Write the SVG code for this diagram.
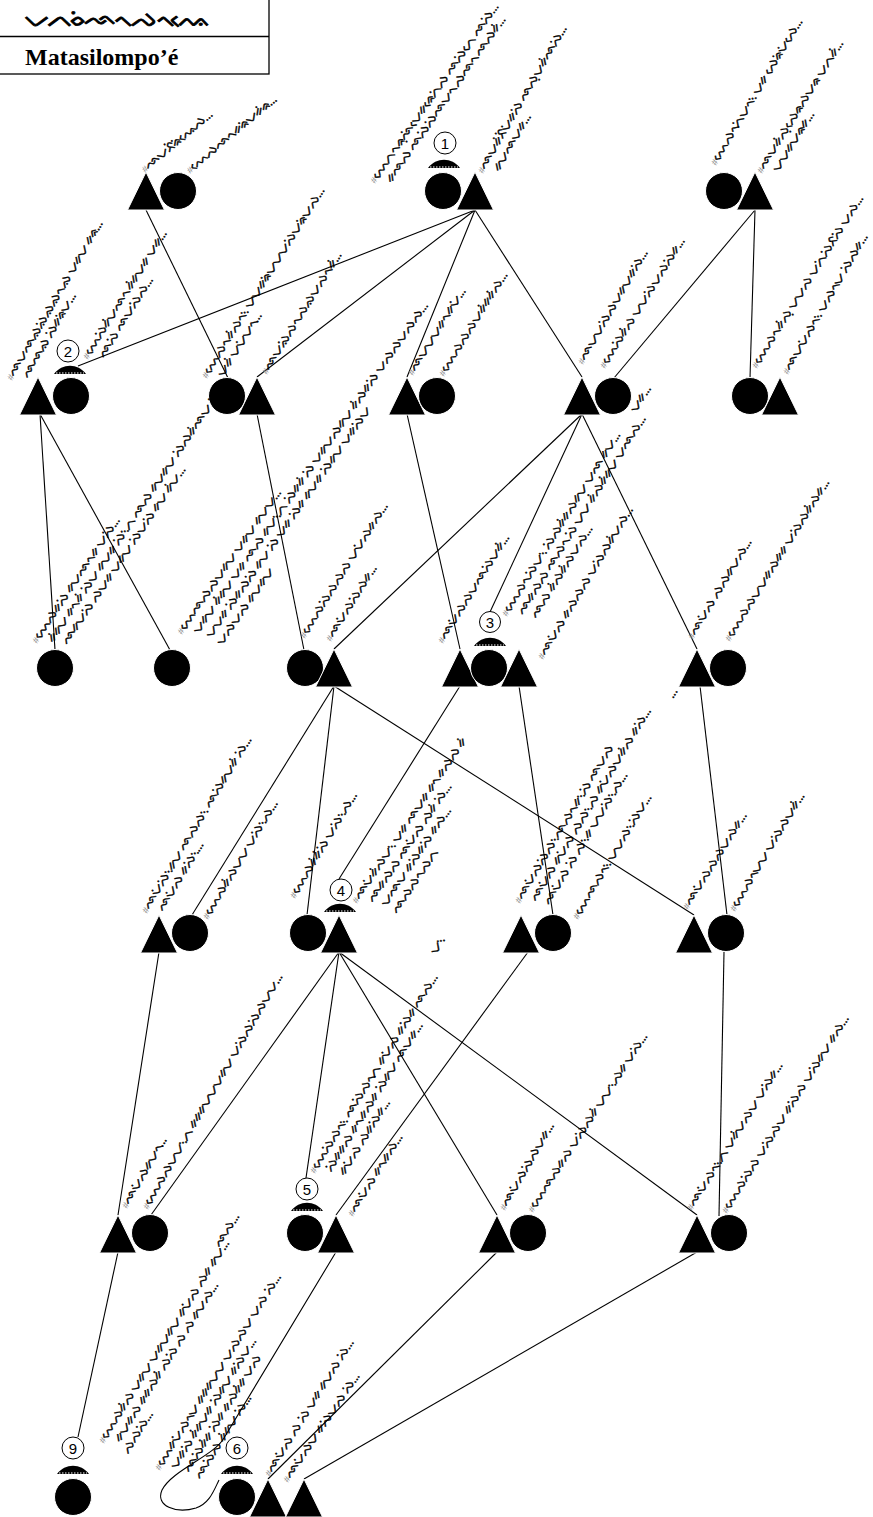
<svg xmlns="http://www.w3.org/2000/svg" xmlns:xlink="http://www.w3.org/1999/xlink" width="873" height="1517" viewBox="0 0 873 1517">
<style>
.lb{font-family:"Noto Sans Buginese","Noto Sans","DejaVu Sans",sans-serif;font-size:12.5px;fill:#000;stroke:#000;stroke-width:0.35;letter-spacing:-0.3px}
.h{fill:#8a8a8a;stroke:none;font-family:"Liberation Sans",sans-serif;font-size:9px}
.sym{fill:#000;stroke:#fff;stroke-width:1}
.cn line,.cn path{stroke:#000;stroke-width:1.1;fill:none}
.mk circle{fill:#fff;stroke:#000;stroke-width:1}
.mk text{font-family:"Liberation Sans",sans-serif;font-size:15px;text-anchor:middle;fill:#000}
.cap{fill:#000}
</style>
<defs>
<path id="tri" d="M0,0 L18.5,38 L-18.5,38 Z"/>
<g id="cap"><path d="M-16,4 C-8,-7 8,-7 16,4 Z"/><line x1="-14" y1="3" x2="14" y2="3" stroke="#fff" stroke-width="1.2" stroke-dasharray="1.5 1.5"/></g>
</defs>
<rect width="873" height="1517" fill="#fff"/>

<g id="title">
<rect x="-1" y="-1" width="270" height="75" fill="#fff" stroke="#000" stroke-width="1.3"/>
<line x1="0" y1="36.5" x2="269" y2="36.5" stroke="#000" stroke-width="1.3"/>
<text x="25" y="26" class="lb" style="font-size:20px;stroke-width:0.8" textLength="183" lengthAdjust="spacingAndGlyphs">ᨆᨈᨔᨗᨒᨚᨄᨚᨕᨙ</text>
<text x="25" y="65" style="font-family:'Liberation Serif',serif;font-weight:bold;font-size:24px">Matasilompo’é</text>
</g>

<g id="connectors" class="cn">
<line x1="146" y1="210" x2="228" y2="378"/>
<line x1="475" y1="210" x2="78" y2="366"/>
<line x1="475" y1="210" x2="257" y2="377"/>
<line x1="475" y1="210" x2="407" y2="377"/>
<line x1="475" y1="210" x2="582" y2="377"/>
<line x1="755" y1="210" x2="614" y2="378"/>
<line x1="755" y1="210" x2="750" y2="378"/>
<line x1="40" y1="414" x2="55" y2="650"/>
<line x1="40" y1="414" x2="170" y2="650"/>
<line x1="257" y1="414" x2="304" y2="650"/>
<line x1="407" y1="414" x2="460" y2="649"/>
<line x1="582" y1="414" x2="334" y2="649"/>
<line x1="582" y1="414" x2="490" y2="612"/>
<line x1="582" y1="414" x2="697" y2="649"/>
<line x1="334" y1="686" x2="192" y2="915"/>
<line x1="334" y1="686" x2="307" y2="915"/>
<line x1="334" y1="686" x2="694" y2="915"/>
<line x1="460" y1="686" x2="339" y2="879"/>
<line x1="519" y1="686" x2="553" y2="915"/>
<line x1="700" y1="686" x2="727" y2="915"/>
<line x1="159" y1="952" x2="118" y2="1215"/>
<line x1="339" y1="952" x2="151" y2="1215"/>
<line x1="339" y1="952" x2="306" y2="1178"/>
<line x1="339" y1="952" x2="497" y2="1215"/>
<line x1="339" y1="952" x2="697" y2="1215"/>
<line x1="528" y1="952" x2="336" y2="1215"/>
<line x1="724" y1="952" x2="719" y2="1216"/>
<line x1="118" y1="1252" x2="78" y2="1437"/>
<path d="M336,1252 L224,1438 C214,1456 172,1470 162,1490 C155,1506 176,1514 196,1508 C210,1503 214,1490 219,1480"/>
<line x1="497" y1="1252" x2="268" y2="1479"/>
<line x1="697" y1="1252" x2="304" y2="1479"/>
</g>

<g id="nA">
<use xlink:href="#tri" x="146" y="172" class="sym"/>
<circle cx="178" cy="191" r="18.5" class="sym"/>
<text class="lb" transform="translate(145,173) rotate(-40)"><tspan class="h">#</tspan>ᨒᨆᨅᨗᨑᨗᨕᨙᨄ...</text>
<text class="lb" transform="translate(190,174) rotate(-40)"><tspan class="h">#</tspan>ᨓᨙᨄᨒᨚᨀᨑᨗᨆᨀᨗᨑ...</text>
</g>

<g id="nB">
<circle cx="443" cy="191" r="18.5" class="sym"/>
<use xlink:href="#tri" x="475" y="172" class="sym"/>
<use xlink:href="#cap" x="444" y="164" class="cap"/>
<g class="mk"><circle cx="445" cy="143" r="11"/><text x="445" y="148.5">1</text></g>
<text class="lb" transform="translate(375,184) rotate(-55)"><tspan class="h">#</tspan>ᨓᨙᨈᨚᨑᨘᨒᨗᨆᨙᨀᨑᨙᨈᨗᨄ ᨒᨄᨗᨈᨙ ᨒᨄᨗ...<tspan x="10" dy="13">ᨀᨒᨄ ᨒᨄᨗᨄᨗᨒᨆᨚ ᨄᨒᨚ ᨒᨄᨀᨗ...</tspan></text>
<text class="lb" transform="translate(483,174) rotate(-60)"><tspan class="h">#</tspan>ᨒᨆᨀᨗᨅᨗᨆᨗᨀᨄᨗ ᨒᨄᨘᨆᨀᨗᨒᨄᨗ...<tspan x="10" dy="13">ᨀᨆᨒᨆᨀ...</tspan></text>
</g>

<g id="nC">
<circle cx="724" cy="191" r="18.5" class="sym"/>
<use xlink:href="#tri" x="755" y="172" class="sym"/>
<text class="lb" transform="translate(716,166) rotate(-59)"><tspan class="h">#</tspan>ᨓᨙᨄᨚᨈᨗᨆᨚ᨞ ᨆᨀ ᨄᨙᨑᨗᨆᨗᨄᨙ...</text>
<text class="lb" transform="translate(762,174) rotate(-58)"><tspan class="h">#</tspan>ᨒᨆᨀᨗᨄᨘᨄᨙᨑᨄᨆᨑ ᨆᨈᨀᨗ...<tspan x="10" dy="13">ᨆᨆᨀᨆᨑᨀ...</tspan></text>
</g>

<g id="nD">
<use xlink:href="#tri" x="38" y="377" class="sym"/>
<circle cx="71" cy="396" r="18.5" class="sym"/>
<use xlink:href="#cap" x="70" y="370" class="cap"/>
<g class="mk"><circle cx="68" cy="351" r="11"/><text x="68" y="356.5">2</text></g>
<text class="lb" transform="translate(12,381) rotate(-60)"><tspan class="h">#</tspan>ᨒᨆᨒᨁᨁᨗᨁᨁᨚᨁ ᨆᨀᨆ ᨀᨑ...<tspan x="10" dy="13">ᨒᨒᨁ ᨄᨗᨀᨑᨗᨆ...</tspan></text>
<text class="lb" transform="translate(88,360) rotate(-58)"><tspan class="h">#</tspan>ᨓᨙᨄᨗᨀᨗᨆᨒᨚ ᨀᨗᨀᨆᨀ ᨆᨀ...<tspan x="10" dy="13">ᨒᨄᨗ ᨒᨆᨄᨗᨄ...</tspan></text>
</g>

<g id="nE">
<circle cx="227" cy="396" r="18.5" class="sym"/>
<use xlink:href="#tri" x="257" y="377" class="sym"/>
<text class="lb" transform="translate(207,379) rotate(-58)"><tspan class="h">#</tspan>ᨓᨙᨄᨚᨀᨗᨄᨚ᨞ ᨆᨆᨀᨑᨗᨆᨆᨆᨄᨗᨆᨑᨗᨆᨄ...<tspan x="10" dy="13">ᨆᨀᨗ ᨆᨆᨗᨆᨚ...</tspan></text>
<text class="lb" transform="translate(267,375) rotate(-58)"><tspan class="h">#</tspan>ᨒᨆᨁᨗᨄᨚᨄᨁᨆᨄᨚᨀᨗ...</text>
</g>

<g id="nF">
<use xlink:href="#tri" x="407" y="377" class="sym"/>
<circle cx="437" cy="396" r="18.5" class="sym"/>
<text class="lb" transform="translate(413,376) rotate(-58)"><tspan class="h">#</tspan>ᨒᨆᨆᨆᨀᨚᨀᨆᨗ...</text>
<text class="lb" transform="translate(444,377) rotate(-58)"><tspan class="h">#</tspan>ᨓᨙᨄᨄᨄᨆᨀᨗᨀᨀᨗᨄ...</text>
</g>

<g id="nG">
<use xlink:href="#tri" x="582" y="377" class="sym"/>
<circle cx="613" cy="396" r="18.5" class="sym"/>
<text class="lb" transform="translate(583,365) rotate(-60)"><tspan class="h">#</tspan>ᨒᨆᨆᨄᨗᨄᨆᨀᨆᨀᨄᨗ...</text>
<text class="lb" transform="translate(605,369) rotate(-58)"><tspan class="h">#</tspan>ᨓᨙᨄᨗᨀᨗᨄ ᨆᨆᨄᨗᨆᨄᨄᨗᨀ...</text>
<text class="lb" transform="translate(636,413) rotate(-58)">ᨆᨀ...</text>
</g>

<g id="nH">
<circle cx="750" cy="396" r="18.5" class="sym"/>
<use xlink:href="#tri" x="780" y="377" class="sym"/>
<text class="lb" transform="translate(757,369) rotate(-58)"><tspan class="h">#</tspan>ᨓᨙᨄᨚᨀᨗᨄᨘ ᨆᨆᨄ ᨆᨈᨗᨄᨗᨅᨄᨗ ᨆᨄ...</text>
<text class="lb" transform="translate(788,375) rotate(-60)"><tspan class="h">#</tspan>ᨒᨆᨆᨗᨄᨚ᨞ ᨆᨄᨚᨆ ᨄᨗᨄᨀ...</text>
</g>

<g id="nI">
<circle cx="55" cy="668" r="18.5" class="sym"/>
<text class="lb" transform="translate(37,644) rotate(-56)"><tspan class="h">#</tspan>ᨓᨙᨄᨀᨄᨗ ᨀᨆᨒᨚᨀ ᨆᨄᨗ...<tspan x="10" dy="13">ᨀᨗᨀᨆ ᨀᨚᨀᨗ ᨄᨗᨆ ᨀᨆᨀ ᨄᨗ᨞ᨈ ᨒᨄ ᨀᨆᨀᨆ ᨄᨗᨄᨀᨗᨒᨆ ᨄᨗ...</tspan><tspan x="16" dy="13">ᨒᨀᨆᨄᨗ ᨄᨆᨀ ᨆᨀᨆ ᨄᨗᨆᨄᨗ ᨀᨆ ᨀᨗᨆ...</tspan></text>
</g>

<g id="nJ">
<circle cx="172" cy="668" r="18.5" class="sym"/>
<text class="lb" transform="translate(182,635) rotate(-55)"><tspan class="h">#</tspan>ᨓᨙᨒᨄᨄᨆᨀᨆ ᨆᨀᨆ ᨀᨆᨆ...<tspan x="10" dy="13">ᨆᨀᨆ ᨀᨗᨀᨆ ᨆᨀ ᨒᨄ ᨀᨆ᨞ᨈ ᨄᨗᨀᨀᨗ ᨄᨗ ᨆᨀᨆᨄᨀᨆ ᨀᨗᨄᨀᨄᨗ ᨆᨄᨄᨆᨄᨄ...</tspan><tspan x="14" dy="13">ᨆᨆᨀ ᨄᨗᨀᨄᨄᨗ ᨀᨆ ᨄᨗ ᨆᨀ ᨄᨗᨀ ᨀᨆᨀ ᨄᨗᨀᨆ ᨆᨀᨄᨗᨆ</tspan><tspan x="14" dy="13">ᨆᨄᨆᨄ ᨀᨆᨀᨆ</tspan></text>
</g>

<g id="nK">
<circle cx="305" cy="668" r="18.5" class="sym"/>
<use xlink:href="#tri" x="334" y="649" class="sym"/>
<text class="lb" transform="translate(305,639) rotate(-58)"><tspan class="h">#</tspan>ᨓᨙᨄᨄᨗᨄᨄᨄ ᨆᨆᨗᨄᨀᨄ...</text>
<text class="lb" transform="translate(331,642) rotate(-58)"><tspan class="h">#</tspan>ᨒᨆᨗᨄᨄᨗᨄᨀ...</text>
</g>

<g id="nL">
<use xlink:href="#tri" x="460" y="649" class="sym"/>
<circle cx="489" cy="668" r="18.5" class="sym"/>
<use xlink:href="#tri" x="519" y="649" class="sym"/>
<use xlink:href="#cap" x="490" y="642" class="cap"/>
<g class="mk"><circle cx="490" cy="622" r="10.5"/><text x="490" y="627.5">3</text></g>
<text class="lb" transform="translate(443,644) rotate(-58)"><tspan class="h">#</tspan>ᨒᨆᨗᨄᨄᨆᨒᨄᨗᨆᨀᨗ...</text>
<text class="lb" transform="translate(507,617) rotate(-58)"><tspan class="h">#</tspan>ᨓᨙᨄᨚᨄᨗᨆ᨞ ᨄᨗᨄᨀᨗᨀᨄᨀᨆ ᨆᨒ ᨀᨆ...<tspan x="10" dy="13">ᨒᨀᨄᨄ ᨒᨄᨚ ᨄᨗ ᨆᨆ ᨀᨗᨄᨀᨗᨀᨆ ᨆᨒᨄ...</tspan><tspan x="14" dy="13">ᨒᨄ ᨀᨗᨄᨀᨗᨄᨆᨄ...</tspan></text>
<text class="lb" transform="translate(543,660) rotate(-59)"><tspan class="h">#</tspan>ᨒᨆᨗᨄ ᨀᨄᨄᨄ ᨆᨄᨗᨄᨀᨗᨆᨄ...</text>
</g>

<g id="nM">
<use xlink:href="#tri" x="697" y="649" class="sym"/>
<circle cx="728" cy="668" r="18.5" class="sym"/>
<text class="lb" transform="translate(693,640) rotate(-59)"><tspan class="h">#</tspan>ᨒᨆᨗᨄ ᨄᨄᨀᨆᨄ...</text>
<text class="lb" transform="translate(730,642) rotate(-58)"><tspan class="h">#</tspan>ᨓᨙᨄᨄᨆᨆᨀᨄᨀᨀ ᨆᨄᨗᨄᨀᨗᨄᨀ...</text>
<text class="lb" transform="translate(673,699) rotate(-58)">...</text>
</g>

<g id="nN">
<use xlink:href="#tri" x="159" y="915" class="sym"/>
<circle cx="190" cy="933" r="18.5" class="sym"/>
<text class="lb" transform="translate(147,914) rotate(-59)"><tspan class="h">#</tspan>ᨒᨆᨗᨄᨗ᨞ᨀᨆ ᨒᨄᨄ᨞ ᨒᨄᨗᨀᨆᨀᨗ ᨄᨗ...<tspan x="10" dy="13">ᨒᨆᨗᨄ ᨀᨄᨗ᨞...</tspan></text>
<text class="lb" transform="translate(208,920) rotate(-59)"><tspan class="h">#</tspan>ᨓᨙᨄᨀᨗᨄᨆᨆ ᨆᨄᨗ᨞ᨄ...</text>
</g>

<g id="nO">
<circle cx="308" cy="933" r="18.5" class="sym"/>
<use xlink:href="#tri" x="339" y="915" class="sym"/>
<use xlink:href="#cap" x="340" y="908" class="cap"/>
<g class="mk"><circle cx="341" cy="890" r="11"/><text x="341" y="895.5">4</text></g>
<text class="lb" transform="translate(295,899) rotate(-59)"><tspan class="h">#</tspan>ᨓᨙᨄᨀᨗᨀᨗᨄᨗ ᨆᨄᨗ᨞ᨄ...</text>
<text class="lb" transform="translate(357,904) rotate(-56)"><tspan class="h">#</tspan>ᨒᨆᨗᨀᨗᨄᨆ᨞ ᨆᨀ ᨒᨆᨀ ᨀᨚ ᨀᨄᨄ ᨀᨗ<tspan x="10" dy="13">ᨒᨀᨄᨄ ᨒᨆᨗᨄ ᨄᨀᨗ ᨄᨗ...</tspan><tspan x="14" dy="13">ᨆᨒᨆ ᨀᨄᨗᨀᨄᨗ ᨀᨄ...</tspan><tspan x="14" dy="13">ᨒᨄᨄᨚᨄᨈ</tspan></text>
<text class="lb" transform="translate(436,955) rotate(-58)">ᨆ᨞</text>
</g>

<g id="nP">
<use xlink:href="#tri" x="521" y="915" class="sym"/>
<circle cx="553" cy="933" r="18.5" class="sym"/>
<text class="lb" transform="translate(520,904) rotate(-59)"><tspan class="h">#</tspan>ᨒᨆᨗᨄᨄᨗᨄ᨞ᨒᨄᨚᨀ᨞ᨄᨗ ᨒᨆᨄ<tspan x="10" dy="13">ᨒᨆᨗᨄ ᨀᨆᨗᨄ ᨄᨄ᨞ᨄ ᨀᨆᨗᨄᨆᨀᨗᨄ ᨀᨄᨗ...</tspan><tspan x="14" dy="13">ᨒᨆᨗᨄ ᨄᨗ ᨄ᨞ᨀ ᨆᨆᨄᨗ᨞ᨄ...</tspan></text>
<text class="lb" transform="translate(578,920) rotate(-59)"><tspan class="h">#</tspan>ᨓᨙᨒᨄᨚ᨞ ᨆᨆᨄ᨞ᨄᨗᨆ...</text>
</g>

<g id="nQ">
<use xlink:href="#tri" x="694" y="915" class="sym"/>
<circle cx="726" cy="933" r="18.5" class="sym"/>
<text class="lb" transform="translate(688,910) rotate(-58)"><tspan class="h">#</tspan>ᨒᨆᨗᨄᨄᨄᨆᨄᨀ...</text>
<text class="lb" transform="translate(735,912) rotate(-59)"><tspan class="h">#</tspan>ᨓᨙᨄᨚᨆᨆ ᨆᨄᨗᨄᨆᨀᨗ...</text>
</g>

<g id="nR">
<use xlink:href="#tri" x="118" y="1215" class="sym"/>
<circle cx="150" cy="1233" r="18.5" class="sym"/>
<text class="lb" transform="translate(127,1209) rotate(-60)"><tspan class="h">#</tspan>ᨒᨆᨗᨄᨀᨆᨚ...</text>
<text class="lb" transform="translate(148,1210) rotate(-60)"><tspan class="h">#</tspan>ᨓᨙᨄᨄᨆᨆ᨞ᨈ ᨀᨀᨀᨆᨆᨆᨀᨆ ᨆᨄᨗᨄᨄᨗᨄᨆᨆ...</text>
<text class="lb" transform="translate(220,1248) rotate(-58)">ᨒᨄ...</text>
</g>

<g id="nS">
<circle cx="305" cy="1233" r="18.5" class="sym"/>
<use xlink:href="#tri" x="336" y="1215" class="sym"/>
<use xlink:href="#cap" x="307" y="1207" class="cap"/>
<g class="mk"><circle cx="307" cy="1189" r="11"/><text x="307" y="1194.5">5</text></g>
<text class="lb" transform="translate(315,1174) rotate(-58)"><tspan class="h">#</tspan>ᨓᨙᨄᨗᨄᨚ᨞ ᨒᨄᨗᨄᨚᨈ ᨀᨆᨗᨄ ᨀᨄᨗᨀ ᨒᨄ...<tspan x="10" dy="13">ᨄᨗᨀᨀᨄ ᨀᨚᨀᨄᨀ ᨄᨗᨀᨆ ᨒᨆᨀ...</tspan><tspan x="14" dy="13">ᨀᨆᨗᨄ ᨄᨀᨄᨗᨀ...</tspan></text>
<text class="lb" transform="translate(353,1217) rotate(-58)"><tspan class="h">#</tspan>ᨒᨆᨗᨄ ᨀᨚᨀᨄ...</text>
</g>

<g id="nT">
<use xlink:href="#tri" x="497" y="1215" class="sym"/>
<circle cx="528" cy="1233" r="18.5" class="sym"/>
<text class="lb" transform="translate(505,1211) rotate(-60)"><tspan class="h">#</tspan>ᨒᨆᨗᨄᨄᨗᨄᨆᨀ...</text>
<text class="lb" transform="translate(533,1213) rotate(-57)"><tspan class="h">#</tspan>ᨓᨙᨒᨄᨀᨄ ᨆᨄᨗᨄᨀᨗ ᨆᨆ᨞ᨄᨀ ᨆᨄᨗ...</text>
</g>

<g id="nU">
<use xlink:href="#tri" x="697" y="1215" class="sym"/>
<circle cx="729" cy="1233" r="18.5" class="sym"/>
<text class="lb" transform="translate(692,1211) rotate(-58)"><tspan class="h">#</tspan>ᨒᨆᨗᨄᨚ᨞ᨈ ᨆᨀᨗᨆᨄᨆ ᨆᨄᨗᨀ...</text>
<text class="lb" transform="translate(727,1214) rotate(-58)"><tspan class="h">#</tspan>ᨓᨙᨄᨄᨗᨄ ᨆᨄᨗᨄᨆ ᨀᨄᨗᨄ ᨆᨄᨗᨀᨆ ᨀᨄ...</text>
</g>

<g id="nV">
<circle cx="73" cy="1497" r="18.5" class="sym"/>
<use xlink:href="#cap" x="73" y="1470" class="cap"/>
<g class="mk"><circle cx="73" cy="1448" r="11"/><text x="73" y="1453.5">9</text></g>
<text class="lb" transform="translate(104,1444) rotate(-58)"><tspan class="h">#</tspan>ᨓᨙᨄᨀᨗᨄ ᨆᨀᨆ ᨆᨀᨆᨀᨆ ᨀᨆᨗᨄ ᨄᨀ ᨀᨆ...<tspan x="10" dy="13">ᨀᨆᨀᨄ ᨀᨀᨄᨀᨗ ᨄᨄᨗ ᨄ ᨄ ᨀᨆᨄ...</tspan><tspan x="4" dy="13">ᨄᨄᨄᨗ...</tspan></text>
</g>

<g id="nW">
<circle cx="237" cy="1497" r="18.5" class="sym"/>
<use xlink:href="#tri" x="268" y="1479" class="sym"/>
<use xlink:href="#tri" x="304" y="1479" class="sym"/>
<use xlink:href="#cap" x="237" y="1470" class="cap"/>
<g class="mk"><circle cx="237" cy="1448" r="11"/><text x="237" y="1453.5">6</text></g>
<text class="lb" transform="translate(160,1471) rotate(-58)"><tspan class="h">#</tspan>ᨓᨙᨀᨆᨗᨄᨚᨆ ᨀᨀᨀᨆᨆ ᨆᨄᨄᨆ ᨆᨄ ᨄᨗ...<tspan x="10" dy="13">ᨆᨀᨄᨗ ᨀᨗᨀᨆᨀ ᨄᨗᨀᨆ ᨀᨄᨗᨆ...</tspan><tspan x="14" dy="13">ᨒᨄᨗᨀᨗᨀ ᨄᨗᨀ ᨀᨄᨀᨗᨀ ᨆᨄ</tspan><tspan x="14" dy="13">ᨒᨄᨗᨄ ᨀᨗᨀᨆ ᨄᨗ...</tspan></text>
<text class="lb" transform="translate(270,1477) rotate(-58)"><tspan class="h">#</tspan>ᨒᨆᨗᨄ ᨄ ᨄᨗ ᨆᨀ ᨀᨆᨄ ᨄᨗ...</text>
<text class="lb" transform="translate(288,1483) rotate(-56)"><tspan class="h">#</tspan>ᨒᨆᨗᨄᨆ ᨀᨄᨗᨆᨄ ᨄᨗ...</text>
</g>
</svg>
